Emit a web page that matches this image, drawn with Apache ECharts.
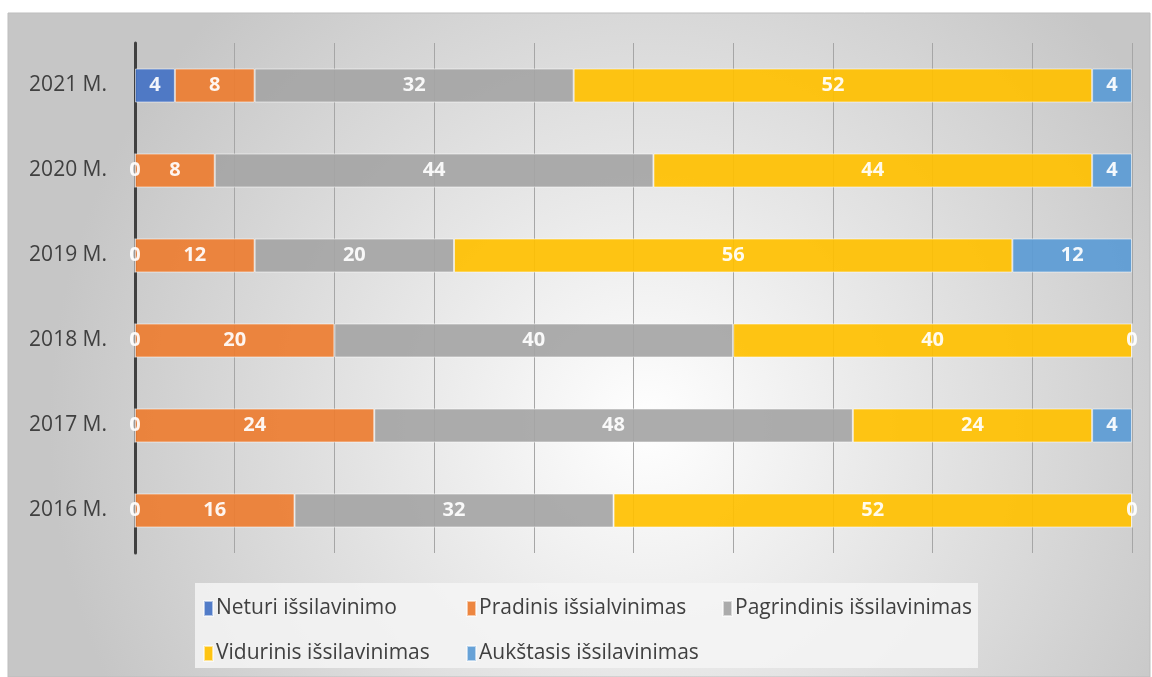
<!DOCTYPE html>
<html>
<head>
<meta charset="utf-8">
<script src="https://cdn.jsdelivr.net/npm/echarts@6/dist/echarts.min.js"></script>
<style>
  html, body { margin: 0; padding: 0; background: #fff; }
  #chart { width: 1152px; height: 677px; }
</style>
</head>
<body>
<div id="chart"></div>
<script>
const categories = ['2016 M.', '2017 M.', '2018 M.', '2019 M.', '2020 M.', '2021 M.'];
const seriesNames = ['Neturi išsilavinimo', 'Pradinis išsialvinimas', 'Pagrindinis išsilavinimas', 'Vidurinis išsilavinimas', 'Aukštasis išsilavinimas'];
const neturi = [0, 0, 0, 0, 0, 4];
const pradinis = [16, 24, 20, 12, 8, 8];
const pagrindinis = [32, 48, 40, 20, 44, 32];
const vidurinis = [52, 24, 40, 56, 44, 52];
const aukstasis = [0, 4, 0, 12, 4, 4];
const colors = ['#4472C4', '#ED7D31', '#A5A5A5', '#FFC000', '#5B9BD5'];

const font = "'Open Sans', 'Liberation Sans', sans-serif";
const chart = echarts.init(document.getElementById('chart'));

const values = [neturi, pradinis, pagrindinis, vidurinis, aukstasis];
const series = seriesNames.map((name, i) => ({
  name,
  type: 'bar',
  stack: 'total',
  barWidth: 34,
  data: values[i],
  itemStyle: { color: colors[i], opacity: 0.92, borderColor: 'rgba(255,255,255,0.6)', borderWidth: 1 },
  label: {
    show: true,
    position: 'inside',
    color: '#fff',
    fontFamily: font,
    fontWeight: 'bold',
    fontSize: 20
  }
}));

// legend laid out on a grid like the original
const legendPos = [[198, 593], [461, 593], [717, 593], [198, 638], [461, 638]];
const legends = seriesNames.map((name, i) => ({
  data: [name],
  left: legendPos[i][0],
  top: legendPos[i][1],
  itemWidth: 9,
  itemHeight: 15,
  itemGap: 4,
  icon: 'rect',
  textStyle: { color: '#404040', fontSize: 21, fontFamily: font, padding: [0, 0, 0, -2] }
}));

chart.setOption({
  animation: false,
  color: colors,
  graphic: [
    {
      type: 'rect',
      z: -10,
      shape: { x: 8, y: 13, width: 1142, height: 664 },
      style: {
        fill: new echarts.graphic.RadialGradient(0.56, 0.62, 0.9, [
          { offset: 0, color: '#ffffff' },
          { offset: 1, color: '#c6c6c6' }
        ]),
        stroke: '#bdbdbd',
        lineWidth: 1
      }
    },
    {
      type: 'rect',
      z: -9,
      shape: { x: 195, y: 583, width: 783, height: 85 },
      style: { fill: 'rgba(245,245,245,0.85)' }
    }
  ],
  legend: legends,
  grid: { left: 135, right: 20, top: 43, bottom: 124, containLabel: false },
  xAxis: {
    type: 'value',
    min: 0,
    max: 100,
    interval: 10,
    axisLabel: { show: false },
    axisLine: { show: false },
    axisTick: { show: false },
    splitLine: { show: true, lineStyle: { color: '#a6a6a6', width: 1 } }
  },
  yAxis: {
    type: 'category',
    data: categories,
    axisTick: { show: false },
    axisLine: { show: true, lineStyle: { color: '#404040', width: 3 } },
    axisLabel: { color: '#404040', fontSize: 21, fontFamily: font, margin: 28 }
  },
  series
});
</script>
</body>
</html>
